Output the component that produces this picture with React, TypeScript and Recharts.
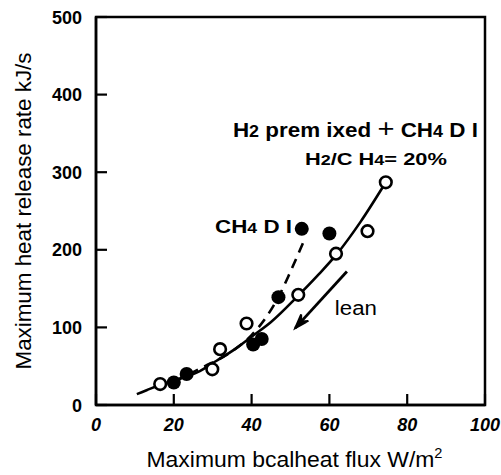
import React from 'react';
import { ComposedChart, XAxis, YAxis, Line, Scatter, ReferenceArea, ReferenceDot } from 'recharts';

const xTicks = [0, 20, 40, 60, 80, 100];
const yTicks = [0, 100, 200, 300, 400, 500];

// H2 premixed + CH4 DI (open circles)
const premixedX = [16.5, 29.9, 31.9, 38.7, 52.0, 61.7, 69.8, 74.5];
const premixedY = [27, 46, 72, 105, 142, 195, 224, 287];
// CH4 DI (filled circles)
const ch4X = [20.0, 23.3, 40.4, 42.6, 46.9, 52.9, 60.0];
const ch4Y = [29, 40, 78, 85, 139, 227, 221];
// fitted curves
const premixedFitX = [10.5, 13, 16.5, 21, 26, 31, 36, 40, 45, 52, 57, 62, 68, 74.5];
const premixedFitY = [14, 19, 26, 33, 42, 57, 73, 88, 107, 141, 167, 195, 236, 287];
const ch4FitX = [20, 24, 28, 34, 40, 44, 47, 50, 53.5];
const ch4FitY = [30, 40, 50, 66, 90, 115, 140, 172, 212];
// lean arrow
const arrowX = [64.5, 51.2];
const arrowY = [172, 99];

const zip = (xs: number[], ys: number[]) => xs.map((x, i) => ({ x, y: ys[i] }));

const premixedData = zip(premixedX, premixedY);
const ch4Data = zip(ch4X, ch4Y);
const premixedFit = zip(premixedFitX, premixedFitY);
const ch4Fit = zip(ch4FitX, ch4FitY);
const arrowData = zip(arrowX, arrowY);

const FONT = '"Liberation Sans", Arial, sans-serif';

const XTick = (props: any) => {
  const { x, y, payload } = props;
  return (
    <g>
      <line x1={x} x2={x} y1={y} y2={y - 11} stroke="#000" strokeWidth={2.2} />
      <text x={x} y={y + 26} textAnchor="middle" fontFamily={FONT} fontSize={18} fontStyle="italic" fontWeight="bold" fill="#000">
        {payload.value}
      </text>
    </g>
  );
};

const YTick = (props: any) => {
  const { x, y, payload } = props;
  return (
    <g>
      <line x1={x} x2={x + 11} y1={y} y2={y} stroke="#000" strokeWidth={2.2} />
      <text x={x - 14} y={y + 6.5} textAnchor="end" fontFamily={FONT} fontSize={18} fontWeight="bold" fill="#000">
        {payload.value}
      </text>
    </g>
  );
};

const OpenDot = (props: any) => (
  <circle cx={props.cx} cy={props.cy} r={5.8} fill="#fff" stroke="#000" strokeWidth={2.6} />
);
const FilledDot = (props: any) => <circle cx={props.cx} cy={props.cy} r={7} fill="#000" />;

const ArrowHead = (props: any) => {
  const { cx, cy, index, points } = props;
  if (index !== 1) return <g key={`a${index}`} />;
  let ang = Math.atan2(56.6, -51.7);
  if (points && points.length > 1) {
    ang = Math.atan2(points[1].y - points[0].y, points[1].x - points[0].x);
  }
  const L = 15;
  const spread = 0.33;
  const p1x = cx - L * Math.cos(ang - spread);
  const p1y = cy - L * Math.sin(ang - spread);
  const p2x = cx - L * Math.cos(ang + spread);
  const p2y = cy - L * Math.sin(ang + spread);
  const mx = cx - L * 0.6 * Math.cos(ang);
  const my = cy - L * 0.6 * Math.sin(ang);
  return (
    <path key="ah" d={`M${p1x},${p1y} L${cx},${cy} L${p2x},${p2y} L${mx},${my} Z`} fill="#000" stroke="#000" strokeWidth={2} strokeLinejoin="miter" />
  );
};

const annoStyle = { fontFamily: FONT, fontWeight: 'bold' as const, fill: '#000' };

const labelH2Mix = { x: 35.2, y: 345 };
const labelRatio = { x: 53.7, y: 309 };
const labelCh4 = { x: 30.6, y: 221.4 };
const labelLean = { x: 61.4, y: 115.8 };

const XLabel = (props: any) => {
  const vb = props.viewBox || {};
  const cx = vb.x + vb.width / 2 + 4;
  return (
    <text x={cx} y={467} textAnchor="middle" fontFamily={FONT} fontSize={22} fill="#000" textLength={296} lengthAdjust="spacingAndGlyphs">
      <tspan>Maximum bcalheat flux W/m</tspan>
      <tspan fontSize={14} dy={-9}>2</tspan>
    </text>
  );
};

const YLabel = (props: any) => {
  const vb = props.viewBox || {};
  const cy = vb.y + vb.height / 2;
  return (
    <text x={31} y={cy} transform={`rotate(-90, 31, ${cy})`} textAnchor="middle" fontFamily={FONT} fontSize={22} fill="#000" textLength={317} lengthAdjust="spacingAndGlyphs">
      Maximum heat release rate kJ/s
    </text>
  );
};

export default function App() {
  return (
    <div style={{ position: 'absolute', left: 0, top: 0, background: '#fff' }}>
      <ComposedChart width={501} height={475} margin={{ top: 17, right: 16, left: 36, bottom: 20 }}>
        <XAxis
          type="number"
          dataKey="x"
          domain={[0, 100]}
          ticks={xTicks}
          interval={0}
          tickLine={false}
          tickSize={0}
          tickMargin={0}
          tick={<XTick />}
          axisLine={{ stroke: '#000', strokeWidth: 2.5 }}
          height={50}
          label={<XLabel />}
        />
        <YAxis
          type="number"
          dataKey="y"
          domain={[0, 500]}
          ticks={yTicks}
          interval={0}
          tickLine={false}
          tickSize={0}
          tickMargin={0}
          tick={<YTick />}
          axisLine={{ stroke: '#000', strokeWidth: 2.5 }}
          width={60}
          label={<YLabel />}
        />
        <ReferenceArea x1={0} x2={100} y1={0} y2={500} fill="none" stroke="#000" strokeWidth={2.5} ifOverflow="visible" />
        <Line data={premixedFit} dataKey="y" type="monotone" stroke="#000" strokeWidth={2.6} dot={false} isAnimationActive={false} />
        <Line data={ch4Fit} dataKey="y" type="monotone" stroke="#000" strokeWidth={2.6} strokeDasharray="10 7" dot={false} isAnimationActive={false} />
        <Line data={arrowData} dataKey="y" type="linear" stroke="#000" strokeWidth={2.8} dot={<ArrowHead />} isAnimationActive={false} />
        <Scatter data={ch4Data} dataKey="y" shape={<FilledDot />} isAnimationActive={false} />
        <Scatter data={premixedData} dataKey="y" shape={<OpenDot />} isAnimationActive={false} />
        <ReferenceDot
          x={labelH2Mix.x}
          y={labelH2Mix.y}
          r={0}
          ifOverflow="visible"
          shape={(p: any) => (
            <text x={p.cx} y={p.cy} {...annoStyle} fontSize={20} textLength={245} lengthAdjust="spacingAndGlyphs">
              <tspan>H</tspan><tspan fontSize={16}>2</tspan><tspan> prem ixed </tspan><tspan fontWeight="normal" fontSize={26}>+</tspan><tspan> CH</tspan><tspan fontSize={16}>4</tspan><tspan> D I</tspan>
            </text>
          )}
        />
        <ReferenceDot
          x={labelRatio.x}
          y={labelRatio.y}
          r={0}
          ifOverflow="visible"
          shape={(p: any) => (
            <text x={p.cx} y={p.cy} {...annoStyle} fontSize={17} textLength={142} lengthAdjust="spacingAndGlyphs">
              <tspan>H</tspan><tspan fontSize={14}>2</tspan><tspan>/C H</tspan><tspan fontSize={14}>4</tspan><tspan>= 20%</tspan>
            </text>
          )}
        />
        <ReferenceDot
          x={labelCh4.x}
          y={labelCh4.y}
          r={0}
          ifOverflow="visible"
          shape={(p: any) => (
            <text x={p.cx} y={p.cy} {...annoStyle} fontSize={19} textLength={77} lengthAdjust="spacingAndGlyphs">
              <tspan>CH</tspan><tspan fontSize={15}>4</tspan><tspan> D I</tspan>
            </text>
          )}
        />
        <ReferenceDot
          x={labelLean.x}
          y={labelLean.y}
          r={0}
          ifOverflow="visible"
          shape={(p: any) => (
            <text x={p.cx} y={p.cy} fontFamily={FONT} fontSize={20} fill="#000" textLength={42} lengthAdjust="spacingAndGlyphs">
              lean
            </text>
          )}
        />
      </ComposedChart>
    </div>
  );
}
